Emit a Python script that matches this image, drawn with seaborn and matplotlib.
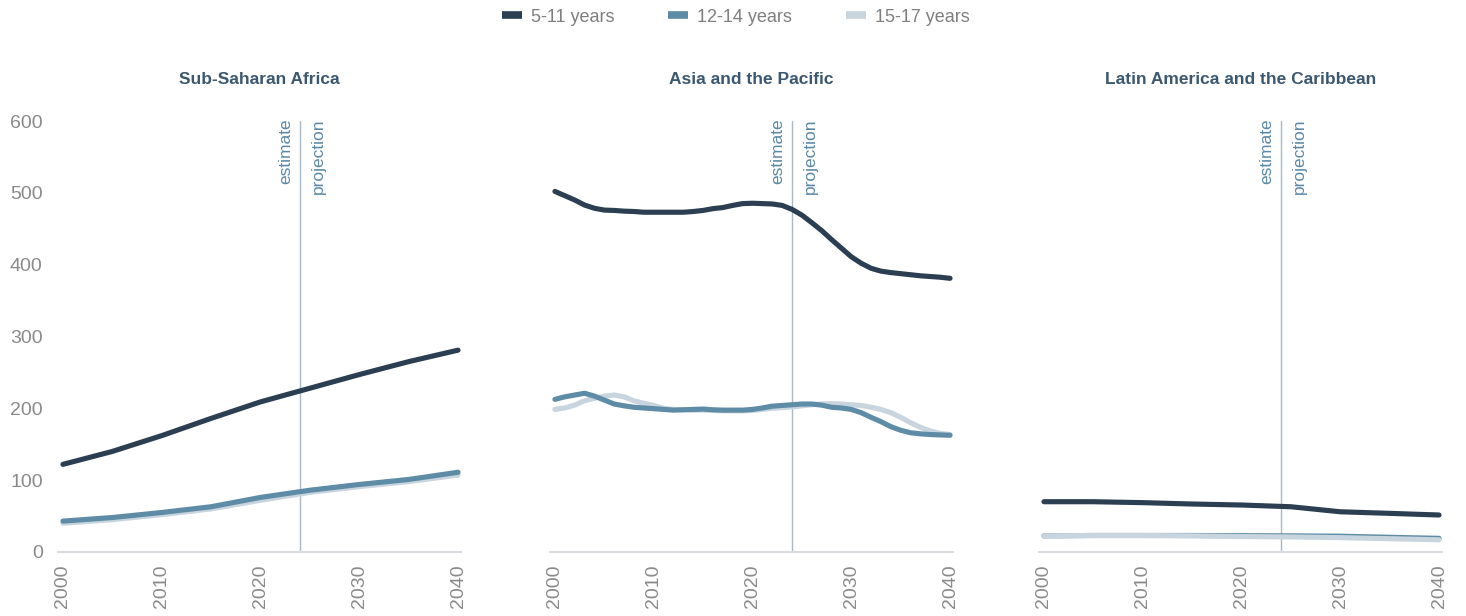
'''children by age group, three regions, estimate vs projection'''
import pandas as pd
import matplotlib
matplotlib.use("Agg")
import matplotlib.pyplot as plt
import seaborn as sns

# data (millions)
groups = ["5-11 years", "12-14 years", "15-17 years"]
regions = ["Sub-Saharan Africa", "Asia and the Pacific", "Latin America and the Caribbean"]

ssa_years = [2000, 2005, 2010, 2015, 2020, 2025, 2030, 2035, 2040]
ssa_5_11 = [122, 140, 162, 186, 209, 228, 247, 265, 281]
ssa_12_14 = [43, 48, 55, 63, 76, 86, 94, 101, 111]
ssa_15_17 = [40, 45, 52, 60, 72, 83, 91, 98, 107]

asia_years = list(range(2000, 2041))
asia_5_11 = [502, 496, 490, 483, 478.5, 476, 475.5, 474.5, 474, 473, 473,
             473, 473, 473, 474, 475.5, 478, 479.5, 482.5, 485, 485.5,
             485, 484.5, 482.5, 477, 469, 458.5, 447.5, 435, 423, 411,
             402, 395, 391, 389, 387.5, 386, 384.5, 383.5, 382.5, 381]
asia_12_14 = [212.5, 216, 218.5, 221, 217, 211.5, 206, 203.5, 201.5, 200.5, 199.5,
              198.5, 197.5, 198, 198.5, 199, 198, 197.5, 197.5, 197.5, 198.5,
              200.5, 203, 204, 205, 206, 206, 204.5, 201.5, 200.5, 198.5,
              194, 187.5, 181.5, 174.5, 169.5, 166, 164.5, 163.5, 163, 162.5]
asia_15_17 = [198.5, 200.5, 204.5, 210.5, 214, 217, 218.5, 216, 210.5, 207, 204,
              200, 198.5, 198, 197.5, 197.5, 197, 196.5, 196.5, 196.5, 197,
              198.5, 200, 201, 202, 203.5, 205, 206, 206.5, 206, 205,
              204, 201.5, 198.5, 194, 187.5, 180, 173.5, 168.5, 165, 163.5]

lac_years = [2000, 2005, 2010, 2015, 2020, 2025, 2030, 2035, 2040]
lac_5_11 = [70, 70, 68.7, 66.8, 65.4, 63, 56, 53.8, 51.5]
lac_12_14 = [22.5, 23, 23, 23, 22.7, 22.5, 22, 20.5, 19]
lac_15_17 = [22.5, 23, 23, 22.5, 21.5, 21, 20, 18.5, 17]

split_year = 2024
y_ticks = [0, 100, 200, 300, 400, 500, 600]
x_ticks = [2000, 2010, 2020, 2030, 2040]

colors = {"5-11 years": "#2c3e52", "12-14 years": "#5e8ba6", "15-17 years": "#c8d4de"}
# which of the two lower lines sits on top in each panel
draw_order = {
    regions[0]: ["5-11 years", "15-17 years", "12-14 years"],
    regions[1]: ["5-11 years", "15-17 years", "12-14 years"],
    regions[2]: ["5-11 years", "12-14 years", "15-17 years"],
}

rows = []
for region, years, series in [
        (regions[0], ssa_years, [ssa_5_11, ssa_12_14, ssa_15_17]),
        (regions[1], asia_years, [asia_5_11, asia_12_14, asia_15_17]),
        (regions[2], lac_years, [lac_5_11, lac_12_14, lac_15_17])]:
    for g, vals in zip(groups, series):
        for yr, v in zip(years, vals):
            rows.append({"region": region, "group": g, "year": yr, "value": v})
df = pd.DataFrame(rows)

sns.set_style("white")
plt.rcParams["font.family"] = ["Liberation Sans", "DejaVu Sans"]

fig = plt.figure(figsize=(14.66, 6.16), dpi=100)
W, H = 1466, 616
lefts = [58, 550, 1039]
width = 403
top, bottom = 121, 552

title_col = "#3b5870"
tick_col = "#8a8a8a"
note_col = "#5a88a6"

for i, region in enumerate(regions):
    ax = fig.add_axes([lefts[i] / W, 1 - bottom / H, width / W, (bottom - top) / H])
    for z, g in enumerate(draw_order[region]):
        sub = df[(df.region == region) & (df.group == g)]
        sns.lineplot(data=sub, x="year", y="value", color=colors[g], linewidth=3.7,
                     ax=ax, legend=False, solid_capstyle="round",
                     solid_joinstyle="round", zorder=3 + z)
    ax.set_xlim(1999.5, 2040.3)
    ax.set_ylim(0, 600)
    ax.set_xticks(x_ticks)
    ax.set_xticklabels([str(t) for t in x_ticks], rotation=90)
    ax.set_yticks(y_ticks)
    if i == 0:
        ax.set_yticklabels([str(t) for t in y_ticks])
    else:
        ax.set_yticklabels([])
    ax.tick_params(axis="both", length=0, labelsize=14, labelcolor=tick_col)
    ax.tick_params(axis="x", pad=9)
    ax.tick_params(axis="y", pad=11)
    ax.set_xlabel("")
    ax.set_ylabel("")
    for s in ["top", "right", "left"]:
        ax.spines[s].set_visible(False)
    ax.spines["bottom"].set_color("#d9dde1")
    ax.spines["bottom"].set_linewidth(1.5)
    ax.axvline(split_year, color="#a9b9c6", linewidth=1, zorder=1)
    ax.annotate("estimate", xy=(split_year, 1), xycoords=("data", "axes fraction"),
                xytext=(-5, 2), textcoords="offset points", rotation=90,
                ha="right", va="top", fontsize=12.5, color=note_col)
    ax.annotate("projection", xy=(split_year, 1), xycoords=("data", "axes fraction"),
                xytext=(8, 2), textcoords="offset points", rotation=90,
                ha="left", va="top", fontsize=12.5, color=note_col)
    ax.set_title(region, fontsize=12.5, fontweight="bold", color=title_col, pad=27)

handles = [plt.Line2D([], [], color=colors[g], linewidth=5.5, solid_capstyle="butt")
           for g in groups]
fig.legend(handles, groups, loc="center", bbox_to_anchor=(0.502, 0.972), ncol=3,
           frameon=False, fontsize=13, labelcolor="#7f7f7f", handlelength=1.1,
           handletextpad=0.5, columnspacing=3.0)

fig.savefig("out.png", dpi=100)
